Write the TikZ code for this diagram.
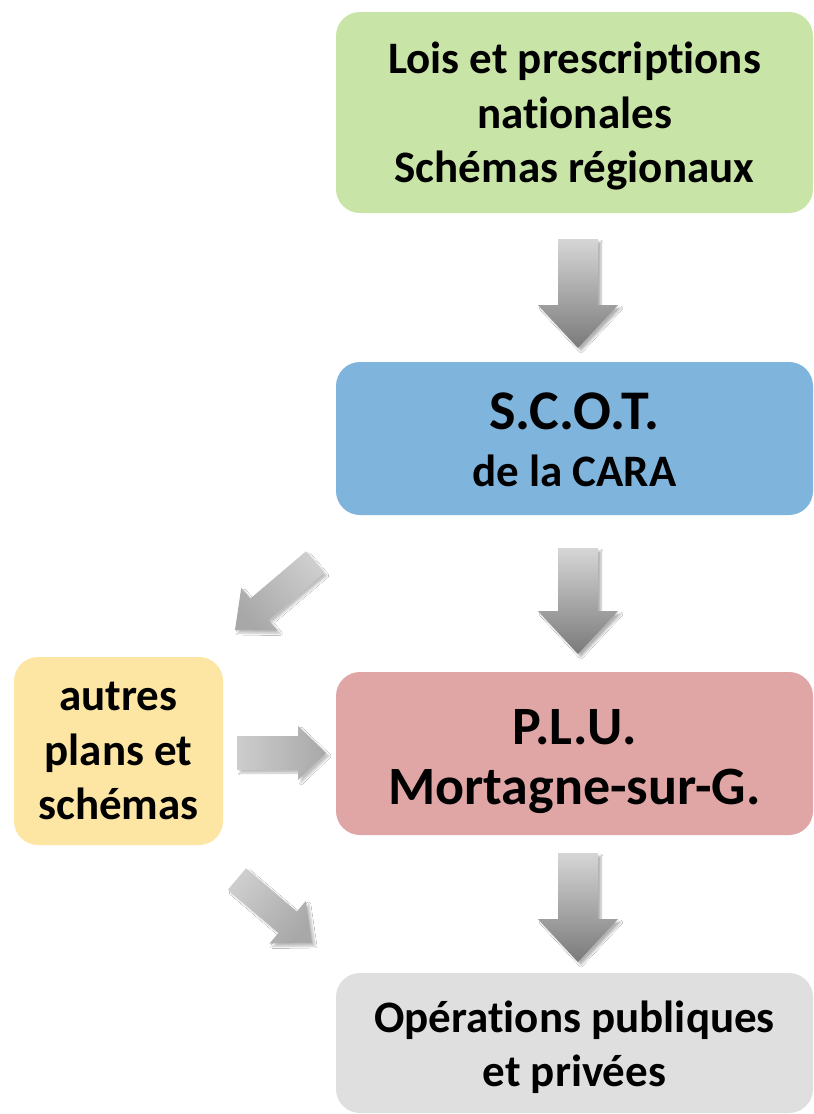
\documentclass[tikz,border=0pt]{standalone}
\usepackage{fontspec}
\setmainfont{Carlito}[RawFeature={-liga;-dlig;-clig}]
\usetikzlibrary{calc,shadows.blur}
\definecolor{cgreen}{RGB}{200,228,166}
\definecolor{cblue}{RGB}{127,181,221}
\definecolor{cpink}{RGB}{224,166,166}
\definecolor{cyellow}{RGB}{253,230,163}
\definecolor{cgrey}{RGB}{223,223,223}
\definecolor{aLight}{RGB}{214,214,214}
\definecolor{aDark}{RGB}{122,122,122}
\definecolor{sLight}{RGB}{205,205,205}
\definecolor{sDark}{RGB}{168,168,168}
\newcommand{\blockarr}[6]{%
  \coordinate (ab) at ($(#3)!#6!(#2)$);
  \path[#1] ($(#2)!#4!90:(#3)$) -- ($(ab)!#4!90:(#3)$) -- ($(ab)!#5!90:(#3)$) -- (#3)
    -- ($(ab)!#5!-90:(#3)$) -- ($(ab)!#4!-90:(#3)$) -- ($(#2)!#4!-90:(#3)$) -- cycle;}
\begin{document}
\begin{tikzpicture}[x=1pt,y=-1pt,
  box/.style={rounded corners=24pt, inner sep=0pt},
  txt/.style={inner sep=0pt, align=center, text=black,
    font=\bfseries\fontsize{45}{54.5}\selectfont},
  bigarr/.style={blur shadow={shadow xshift=3pt, shadow yshift=-3pt, shadow blur steps=6, shadow opacity=30},
    top color=aLight, bottom color=aDark, shading angle=#1},
  smallarr/.style={blur shadow={shadow xshift=3pt, shadow yshift=-3pt, shadow blur steps=6, shadow opacity=25},
    top color=sLight, bottom color=sDark, shading angle=#1}]
\useasboundingbox (0,0) rectangle (814,1114);
\fill[white] (0,0) rectangle (814,1114);
% boxes
\node[box, fill=cgreen, minimum width=477pt, minimum height=201pt] (lois) at (574.5,112.5) {};
\node[box, fill=cblue, minimum width=477pt, minimum height=153pt] (scot) at (574.5,438.5) {};
\node[box, fill=cpink, minimum width=477pt, minimum height=163pt] (plu) at (574.5,753.5) {};
\node[box, fill=cgrey, minimum width=477pt, minimum height=140pt] (ops) at (574.5,1043) {};
\node[box, fill=cyellow, minimum width=209pt, minimum height=188pt] (autres) at (118.5,751) {};
% texts
\node[txt] (loisT) at ($(lois.center)+(0,4)$) {Lois et prescriptions\\nationales\\Schémas régionaux};
\node[txt, font=\bfseries\fontsize{56}{57}\selectfont] (scotT) at ($(scot.center)+(0,1)$)
  {S.C.O.T.\\\fontsize{45}{57}\selectfont de la CARA};
\node[txt, font=\bfseries\fontsize{54}{60}\selectfont] (pluT) at ($(plu.center)+(0,8)$)
  {P.L.U.\\Mortagne-sur-G.};
\node[txt] (opsT) at ($(ops.center)+(0,4)$) {Opérations publiques\\et privées};
\node[txt] (autresT) at (autres.center) {autres\\plans et\\schémas};
% arrow end points
\coordinate (t1) at (578,239); \coordinate (h1) at (578,348);
\coordinate (t2) at (578,548); \coordinate (h2) at (578,654);
\coordinate (t3) at (578,853); \coordinate (h3) at (578,962);
\coordinate (t4) at (315,562); \coordinate (h4) at (235,630);
\coordinate (t5) at (237,753); \coordinate (h5) at (326,753);
\coordinate (t6) at (237,879); \coordinate (h6) at (312,943);
% arrows
\blockarr{bigarr=0}{t1}{h1}{20pt}{40pt}{43pt}
\blockarr{bigarr=0}{t2}{h2}{20pt}{40pt}{43pt}
\blockarr{bigarr=0}{t3}{h3}{20pt}{40pt}{43pt}
\blockarr{smallarr=310}{t4}{h4}{14pt}{28pt}{32pt}
\blockarr{smallarr=90}{t5}{h5}{17pt}{27pt}{28pt}
\blockarr{smallarr=49.5}{t6}{h6}{14pt}{28pt}{32pt}
\end{tikzpicture}
\end{document}
